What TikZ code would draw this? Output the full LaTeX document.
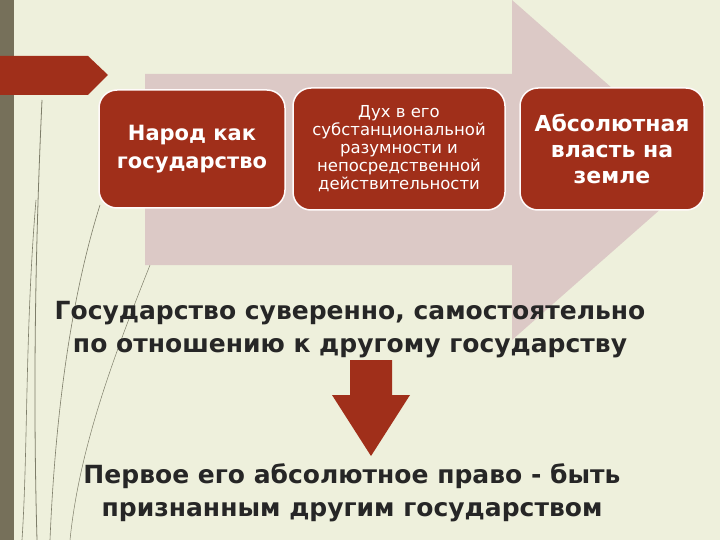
\documentclass[tikz,border=0pt]{standalone}
\usepackage{fontspec}
\setmainfont{DejaVu Sans}
\definecolor{bg}{HTML}{EEF0DC}
\definecolor{olive}{HTML}{76705A}
\definecolor{rust}{HTML}{A02F1A}
\definecolor{pinkarrow}{HTML}{DCC9C6}
\definecolor{grass}{HTML}{7E7E6A}
\begin{document}
\begin{tikzpicture}[x=1pt,y=-1pt,
  box/.style={draw=white!92!pink,line width=1.5pt,fill=rust,rounded corners=18pt,text=white,align=center,font=\bfseries,inner sep=0pt},
  bigtext/.style={align=center,font=\fontsize{25}{33}\selectfont\bfseries,text=black!85}]
\useasboundingbox (0,0) rectangle (720,540);
\fill[bg] (0,0) rectangle (720,540);
\fill[olive] (0,0) rectangle (14,540);
\fill[rust] (0,56) -- (88,56) -- (108,75) -- (88,95) -- (0,95) -- cycle;
\draw[grass,line width=0.8pt] (42,100) .. controls (35,250) and (33,400) .. (37,540);
\draw[grass,line width=0.6pt] (36,200) .. controls (25,330) and (28,450) .. (22,540);
\draw[grass,line width=0.6pt] (100,205) .. controls (70,300) and (55,420) .. (50,540);
\draw[grass,line width=0.5pt] (160,240) .. controls (120,340) and (80,440) .. (70,540);
\fill[pinkarrow] (145,74) -- (512,74) -- (512,0) -- (705,170) -- (512,340) -- (512,265) -- (145,265) -- cycle;
\node[box,minimum width=186pt,minimum height=118pt,font=\fontsize{21}{28}\selectfont\bfseries] (b1) at (192,149) {Народ как\\государство};
\node[box,minimum width=212pt,minimum height=122pt,font=\fontsize{16.5}{18}\selectfont] (b2) at (399,149) {Дух в его\\субстанциональной\\разумности и\\непосредственной\\действительности};
\node[box,minimum width=184pt,minimum height=122pt,font=\fontsize{22}{26}\selectfont\bfseries] (b3) at (612,149) {Абсолютная\\власть на\\земле};
\node[bigtext] (t1) at (350,330) {Государство суверенно, самостоятельно\\по отношению к другому государству};
\fill[rust] (350,360) -- (392,360) -- (392,395) -- (410,395) -- (371,456) -- (332,395) -- (350,395) -- cycle;
\node[inner sep=0pt] (a) at (371,360) {};
\node[bigtext] (t2) at (352,493) {Первое его абсолютное право - быть\\признанным другим государством};
\end{tikzpicture}
\end{document}
